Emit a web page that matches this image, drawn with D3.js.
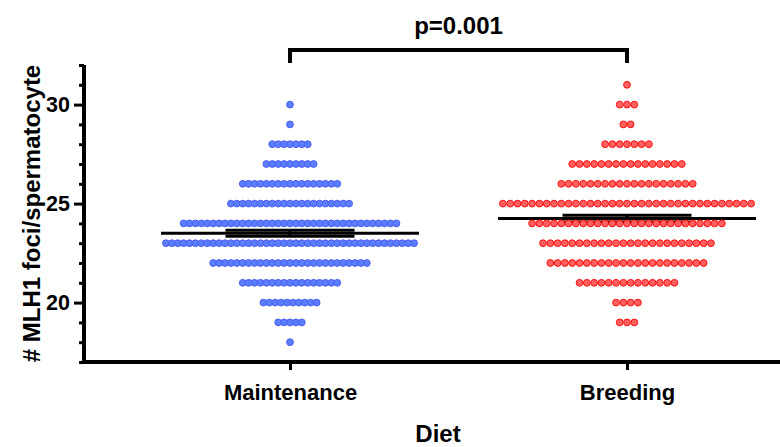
<!DOCTYPE html>
<html>
<head>
<meta charset="utf-8">
<script src="https://cdn.jsdelivr.net/npm/d3@7"></script>
<style>
  html, body { margin: 0; padding: 0; background: #fff; }
  svg { display: block; font-family: "Liberation Sans", Arial, sans-serif; font-weight: bold; }
</style>
</head>
<body>
<svg id="chart" width="780" height="447"></svg>
<script>
// Diet groups
const categories = ["Maintenance", "Breeding"];
// MLH1 foci counts per cell (y levels), and how many spermatocytes had each count
const fociLevels      = [18, 19, 20, 21, 22, 23, 24, 25, 26, 27, 28, 29, 30, 31];
const maintenanceCounts = [1, 5, 10, 17, 27, 43, 37, 21, 17, 9, 7, 1, 1, 0];
const breedingCounts    = [0, 3, 4, 14, 22, 24, 27, 35, 19, 16, 7, 2, 3, 1];
const yTicksMajor = [20, 25, 30];
const yTicksMinor = [17, 18, 19, 21, 22, 23, 24, 26, 27, 28, 29, 31, 32];
const pLabel = "p=0.001";

const groupStyle = {
  Maintenance: { fill: "#5b7dff", stroke: "#4a5ff0" },
  Breeding:    { fill: "#ff6060", stroke: "#ff1010" }
};

const svg = d3.select("#chart");
const W = 780, H = 447;
const margin = { left: 84, top: 65, bottom: 85 };
const FONT = "Liberation Sans, Arial, sans-serif";

const y = d3.scaleLinear().domain([17, 32]).range([362, 65]);
const x = d3.scalePoint().domain(categories).range([290, 627]);

// expand counts into individual observations
const groups = categories.map((name, gi) => {
  const counts = gi === 0 ? maintenanceCounts : breedingCounts;
  const values = [];
  fociLevels.forEach((v, i) => { for (let k = 0; k < counts[i]; k++) values.push(v); });
  return { name, counts, values };
});

const dotR = 3.4;
const maxRowWidth = 255;   // widest row spans this many px

// mean and SEM bars (drawn under the dots)
const meanHalf = 129, capHalf = 64.5;
groups.forEach(g => {
  const m = d3.mean(g.values);
  const sem = d3.deviation(g.values) / Math.sqrt(g.values.length);
  const cx = x(g.name);
  const gg = svg.append("g").attr("stroke", "#000").attr("stroke-width", 3);
  gg.append("line").attr("x1", cx - meanHalf).attr("x2", cx + meanHalf)
    .attr("y1", y(m)).attr("y2", y(m));
  [m - sem, m + sem].forEach(v => {
    gg.append("line").attr("x1", cx - capHalf).attr("x2", cx + capHalf)
      .attr("y1", y(v)).attr("y2", y(v));
  });
  gg.append("line").attr("x1", cx).attr("x2", cx)
    .attr("y1", y(m - sem)).attr("y2", y(m + sem));
});

// scatter dots, one row per foci level, centred on the group
groups.forEach(g => {
  const maxN = d3.max(g.counts);
  const step = (maxRowWidth - 2 * dotR) / (maxN - 1);
  const cx = x(g.name);
  const pts = [];
  fociLevels.forEach((v, i) => {
    const n = g.counts[i];
    for (let k = 0; k < n; k++) pts.push({ v, px: cx + (k - (n - 1) / 2) * step });
  });
  svg.append("g").selectAll("circle").data(pts).join("circle")
    .attr("cx", d => d.px)
    .attr("cy", d => y(d.v))
    .attr("r", dotR)
    .attr("fill", groupStyle[g.name].fill)
    .attr("stroke", groupStyle[g.name].stroke)
    .attr("stroke-width", 1);
});

// y axis
const yAxisG = svg.append("g").attr("transform", `translate(${margin.left},0)`);
yAxisG.call(d3.axisLeft(y).tickValues(yTicksMajor).tickSize(10).tickPadding(4).tickFormat(d3.format("d")));
yAxisG.append("g").call(d3.axisLeft(y).tickValues(yTicksMinor).tickSize(5).tickFormat(""))
  .select(".domain").remove();
yAxisG.selectAll(".domain").attr("stroke-width", 4).attr("d", `M0,${y(32)}V${y(17) + 2}`);
yAxisG.selectAll(".tick line").attr("stroke-width", 3);
yAxisG.selectAll(".tick text").attr("font-size", 21.5).attr("font-weight", "bold")
  .attr("fill", "#000").attr("font-family", FONT);

// x axis
const xAxisG = svg.append("g").attr("transform", `translate(0,${y(17)})`);
xAxisG.call(d3.axisBottom(x).tickSize(8).tickPadding(14));
xAxisG.select(".domain").attr("stroke-width", 4).attr("d", `M${margin.left - 2},0H${W}`);
xAxisG.selectAll(".tick line").attr("stroke-width", 3);
xAxisG.selectAll(".tick text").attr("font-size", 22).attr("font-weight", "bold")
  .attr("fill", "#000").attr("font-family", FONT);

// axis titles
svg.append("text").attr("x", 438).attr("y", 442).attr("text-anchor", "middle")
  .attr("font-size", 24).text("Diet");
svg.append("text").attr("transform", `translate(40,${(y(17) + y(32)) / 2}) rotate(-90)`)
  .attr("text-anchor", "middle").attr("font-size", 24).text("# MLH1 foci/spermatocyte");

// significance bracket
const bx1 = x("Maintenance"), bx2 = x("Breeding"), by = 50;
svg.append("path")
  .attr("d", `M${bx1},63V${by}H${bx2}V63`)
  .attr("fill", "none").attr("stroke", "#000").attr("stroke-width", 4);
svg.append("text").attr("x", (bx1 + bx2) / 2).attr("y", 34).attr("text-anchor", "middle")
  .attr("font-size", 24).text(pLabel);
</script>
</body>
</html>
